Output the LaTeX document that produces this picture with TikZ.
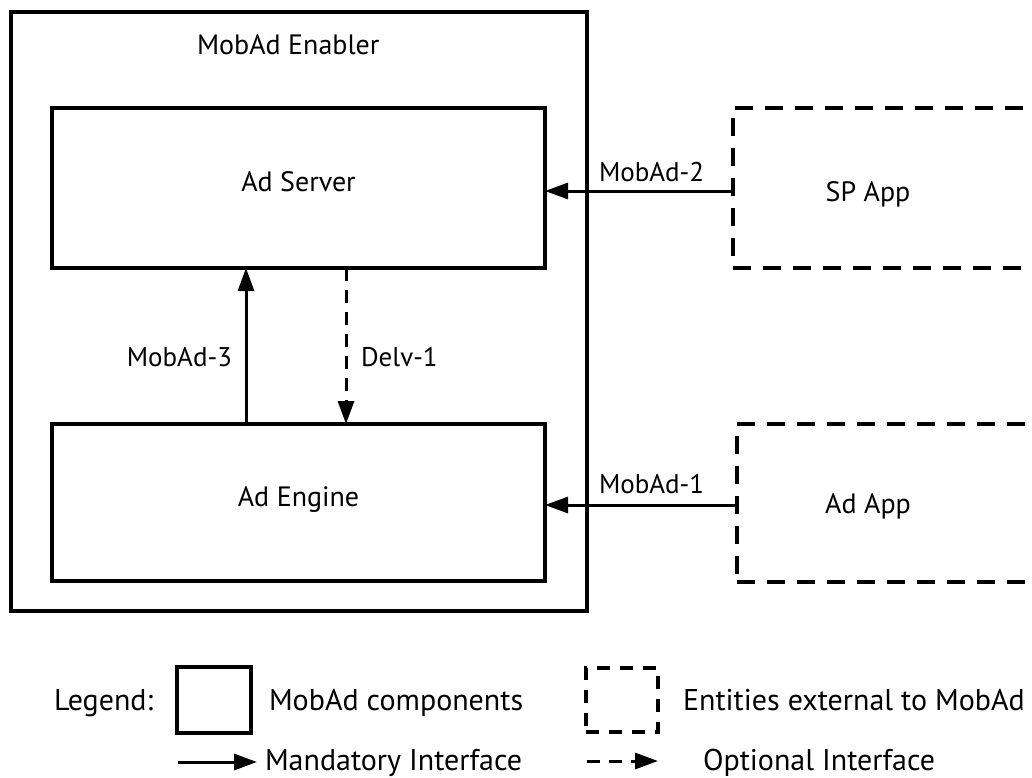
\documentclass[tikz,border=0pt]{standalone}
\usepackage{fontspec}
\setmainfont{PT Sans}
\usetikzlibrary{arrows.meta}
\begin{document}
\begin{tikzpicture}[x=1pt,y=-1pt,
  font=\fontsize{28}{32}\selectfont,
  every node/.style={outer sep=0pt},
  comp/.style={draw, line width=3.5pt, inner sep=0pt, anchor=north west, text height=0.7em, text depth=0pt},
  ext/.style={draw, line width=3.5pt, inner sep=0pt, anchor=north west, dash pattern=on 18pt off 12pt},
  lbl/.style={inner sep=0pt},
  ifl/.style={inner sep=0pt, font=\fontsize{27}{31}\selectfont},
  lgl/.style={inner sep=0pt, anchor=base west, font=\fontsize{30}{34}\selectfont},
  mand/.style={line width=3pt, -{Triangle[length=23pt,width=16pt]}},
  opt/.style={mand, dash pattern=on 13pt off 9pt}]
\useasboundingbox (0,0) rectangle (1032,778);
\clip (0,0) rectangle (1032,778);

% enabler
\node[comp, minimum width=576pt, minimum height=599pt] (enabler) at (11,12) {};
\node[lbl, anchor=base west] (enablerlbl) at (197,55) {MobAd Enabler};

\node[comp, minimum width=493pt, minimum height=160pt] (server) at (52,108) {Ad Server};
\node[comp, minimum width=493pt, minimum height=157pt] (engine) at (52,424) {Ad Engine};

\node[ext, minimum width=320pt, minimum height=160pt] (sp) at (733,108) {};
\node[lbl, anchor=base] (sptext) at (868,201) {SP App};
\node[ext, minimum width=320pt, minimum height=158pt] (adapp) at (737,424) {};
\node[lbl, anchor=base] (adapptext) at (868,513) {Ad App};

% connectors
\draw[mand] ([yshift=-3pt]sp.west) -- ([yshift=-3pt]sp.west -| server.east);
\node[ifl, anchor=base west] (m2) at (599,182) {MobAd-2};
\draw[mand] ([yshift=-2pt]adapp.west) -- ([yshift=-2pt]adapp.west -| engine.east);
\node[ifl, anchor=base west] (m1) at (599,493) {MobAd-1};
\draw[mand] ([xshift=-52.5pt]engine.north) -- ([xshift=-52.5pt]server.south);
\node[ifl, anchor=base east] (m3) at (232,366) {MobAd-3};
\draw[opt] ([xshift=47.5pt]server.south) -- ([xshift=47.5pt]engine.north);
\node[ifl, anchor=base west] (d1) at (361,366) {Delv-1};

% legend
\node[lgl] (legend) at (54,710) {Legend:};
\node[comp, minimum width=74pt, minimum height=66pt] (lgbox) at (177,667) {};
\node[lgl] (lgboxtxt) at (269,710) {MobAd components};
\node[ext, dash pattern=on 13pt off 10pt, minimum width=72pt, minimum height=64pt] (lgext) at (586,668) {};
\node[lgl] (lgexttxt) at (683,710) {Entities external to MobAd};
\coordinate (la1) at (178,762);
\coordinate (la2) at (257,762);
\draw[mand] (la1) -- (la2);
\node[lgl] (lamand) at (265,770) {Mandatory Interface};
\coordinate (lb1) at (587,761);
\coordinate (lb2) at (658,761);
\draw[opt] (lb1) -- (lb2);
\node[lgl] (lbopt) at (703,770) {Optional Interface};
\end{tikzpicture}
\end{document}
